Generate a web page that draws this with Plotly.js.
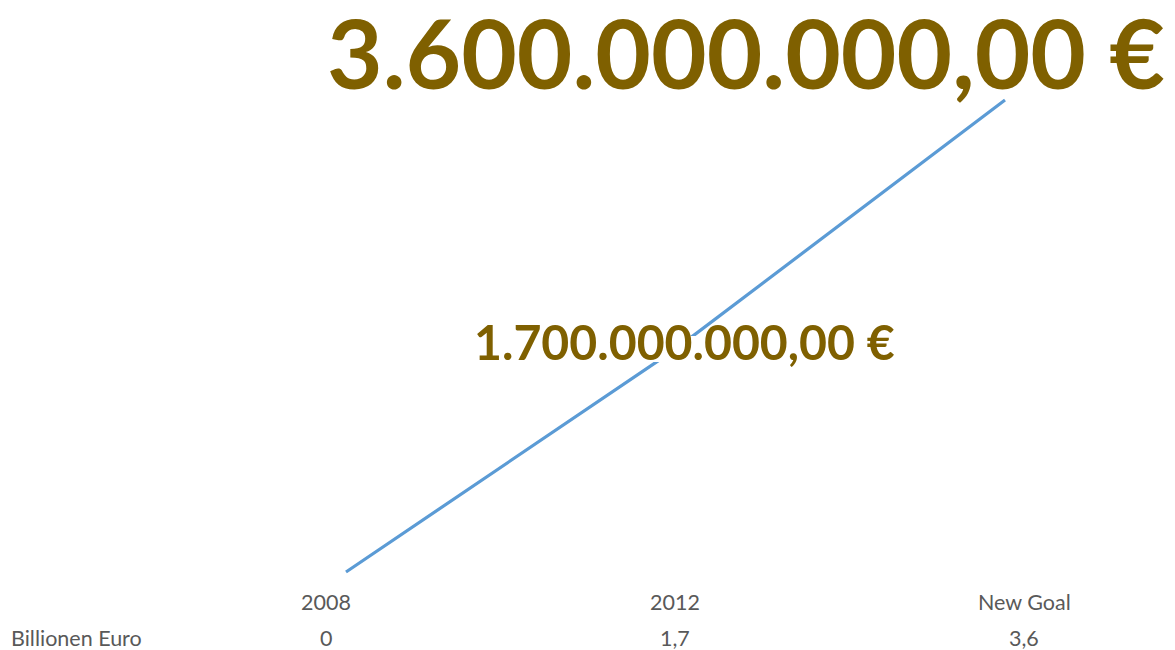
<!DOCTYPE html>
<html>
<head>
<meta charset="utf-8">
<script src="https://cdn.plot.ly/plotly-3.0.1.min.js"></script>
<style>html,body{margin:0;padding:0;background:#fff;}#chart{width:1175px;height:650px;}</style>
</head>
<body>
<div id="chart"></div>
<script>
const categories = ['2008', '2012', 'New Goal'];
const values = [0, 1.7, 3.6];
const seriesName = 'Billionen Euro';
const tableValues = ['0', '1,7', '3,6'];
const dataLabels = ['', '1.700.000.000,00 €', '3.600.000.000,00 €'];

const W = 1175, H = 650;
const idx = categories.map((c, i) => i);
const gold = '#7F6000';
const grey = '#595959';
const fontFam = 'Lato, "Open Sans", sans-serif';

const trace = {
  x: idx, y: values, type: 'scatter', mode: 'lines',
  line: {color: '#5B9BD5', width: 3.2},
  hoverinfo: 'skip', showlegend: false
};

const annotations = [];
categories.forEach((c, i) => {
  annotations.push({x: i, y: 1 - 602 / H, xref: 'x2', yref: 'paper', text: c, showarrow: false,
    font: {family: fontFam, size: 21.5, color: grey}, xanchor: 'center', yanchor: 'middle'});
  annotations.push({x: i, y: 1 - 638 / H, xref: 'x2', yref: 'paper', text: tableValues[i], showarrow: false,
    font: {family: fontFam, size: 21.5, color: grey}, xanchor: 'center', yanchor: 'middle'});
});
annotations.push({x: 9 / W, y: 1 - 638 / H, xref: 'paper', yref: 'paper', text: seriesName, showarrow: false,
  font: {family: fontFam, size: 21.5, color: grey}, xanchor: 'left', yanchor: 'middle'});

annotations.push({x: 684.5 / W, y: 1 - 341 / H, xref: 'paper', yref: 'paper', text: '<b>' + dataLabels[1] + '</b>', showarrow: false,
  font: {family: fontFam, size: 48.2, color: gold}, xanchor: 'center', yanchor: 'middle'});
annotations.push({x: 745.5 / W, y: 1 - 51 / H, xref: 'paper', yref: 'paper', text: '<b>' + dataLabels[2] + '</b>', showarrow: false,
  font: {family: fontFam, size: 96, color: gold}, xanchor: 'center', yanchor: 'middle'});

const layout = {
  width: W, height: H,
  margin: {l: 0, r: 0, t: 0, b: 0, pad: 0},
  paper_bgcolor: '#fff', plot_bgcolor: '#fff',
  xaxis: {range: [-346 / 329.5, (W - 346) / 329.5], visible: false, fixedrange: true},
  xaxis2: {range: [-326 / 349, (W - 326) / 349], visible: false, overlaying: 'x', fixedrange: true},
  yaxis: {range: [-(H - 572) / 131.1, 572 / 131.1], visible: false, fixedrange: true},
  shapes: [{type: 'rect', xref: 'paper', yref: 'paper', layer: 'above',
    x0: 476 / W, x1: 893 / W, y0: 1 - 362 / H, y1: 1 - 336 / H,
    fillcolor: '#fff', line: {width: 0}}],
  annotations: annotations,
  showlegend: false
};

Plotly.newPlot('chart', [trace], layout, {displayModeBar: false, staticPlot: true});
</script>
</body>
</html>
